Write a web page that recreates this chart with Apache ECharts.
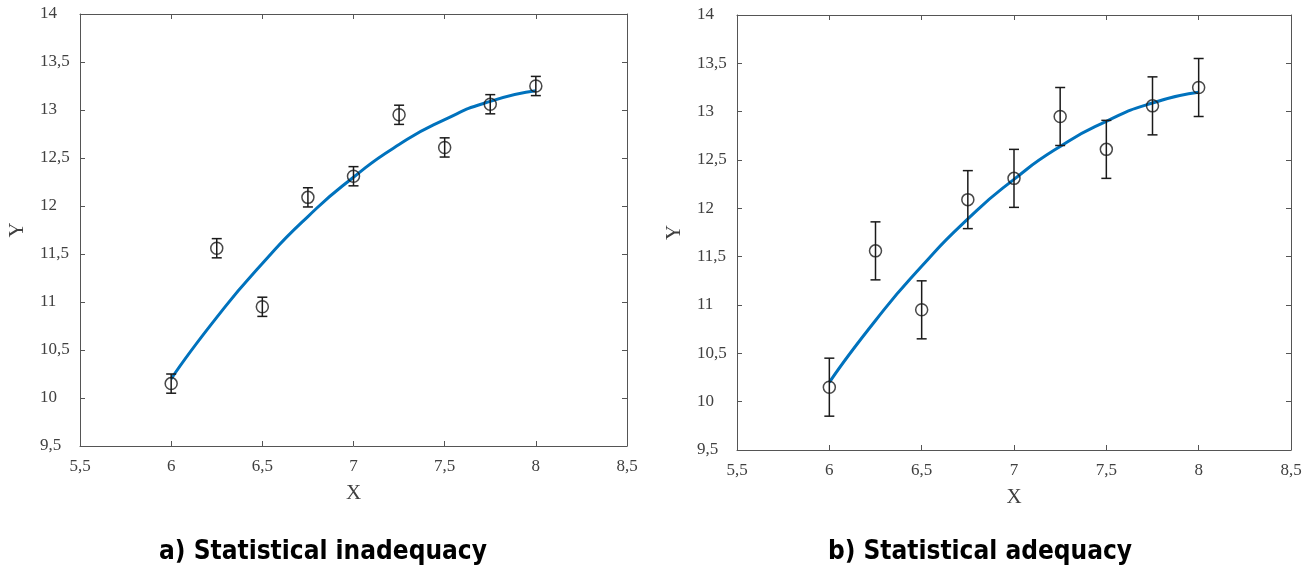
<!DOCTYPE html>
<html>
<head>
<meta charset="utf-8">
<script src="https://cdn.jsdelivr.net/npm/echarts@6/dist/echarts.min.js"></script>
<style>
  html, body { margin: 0; padding: 0; background: #fff; }
  #chart { width: 1309px; height: 570px; }
</style>
</head>
<body>
<div id="chart"></div>
<script>
// measured points (same for both panels)
const xValues = [6, 6.25, 6.5, 6.75, 7, 7.25, 7.5, 7.75, 8];
const yValues = [10.15, 11.56, 10.95, 12.09, 12.31, 12.95, 12.61, 13.06, 13.25];
// error half-widths
const errInadequate = [0.1, 0.1, 0.1, 0.1, 0.1, 0.1, 0.1, 0.1, 0.1];
const errAdequate = [0.3, 0.3, 0.3, 0.3, 0.3, 0.3, 0.3, 0.3, 0.3];
// fitted curve
const fitX = [6, 6.25, 6.5, 6.75, 7, 7.25, 7.5, 7.75, 8];
const fitY = [10.2, 10.84, 11.4, 11.89, 12.3, 12.64, 12.9, 13.09, 13.2];
const titles = ['a) Statistical inadequacy', 'b) Statistical adequacy'];

const AXIS_COLOR = '#555';
const LABEL_COLOR = '#404040';
const FONT = '"Liberation Serif", serif';
const comma = v => String(v).replace('.', ',');

const grids = [
  { left: 80, top: 14, width: 547, height: 432 },
  { left: 737, top: 15, width: 554, height: 435 },
];

const xAxes = [], yAxes = [], series = [];
grids.forEach((g, i) => {
  // bottom + top x axes
  xAxes.push({
    gridIndex: i, type: 'value', min: 5.5, max: 8.5, interval: 0.5,
    name: 'X', nameLocation: 'middle', nameGap: 37,
    nameTextStyle: { color: LABEL_COLOR, fontFamily: FONT, fontSize: 21 },
    axisLine: { lineStyle: { color: AXIS_COLOR, width: 1 } },
    axisTick: { inside: true, length: 5, lineStyle: { color: AXIS_COLOR } },
    axisLabel: { color: LABEL_COLOR, fontFamily: FONT, fontSize: 17, margin: 12, formatter: comma },
    splitLine: { show: false },
  });
  xAxes.push({
    gridIndex: i, type: 'value', min: 5.5, max: 8.5, interval: 0.5, position: 'top',
    axisLine: { lineStyle: { color: AXIS_COLOR, width: 1 } },
    axisTick: { inside: true, length: 5, lineStyle: { color: AXIS_COLOR } },
    axisLabel: { show: false }, splitLine: { show: false },
  });
  yAxes.push({
    gridIndex: i, type: 'value', min: 9.5, max: 14, interval: 0.5,
    name: 'Y', nameLocation: 'middle', nameGap: 52, nameRotate: 90,
    nameTextStyle: { color: LABEL_COLOR, fontFamily: FONT, fontSize: 21 },
    axisLine: { show: true, lineStyle: { color: AXIS_COLOR, width: 1 } },
    axisTick: { show: true, inside: true, length: 5, lineStyle: { color: AXIS_COLOR } },
    axisLabel: { color: LABEL_COLOR, fontFamily: FONT, fontSize: 17, margin: 40, align: 'left', formatter: comma },
    splitLine: { show: false },
  });
  yAxes.push({
    gridIndex: i, type: 'value', min: 9.5, max: 14, interval: 0.5, position: 'right',
    axisLine: { show: true, lineStyle: { color: AXIS_COLOR, width: 1 } },
    axisTick: { show: true, inside: true, length: 5, lineStyle: { color: AXIS_COLOR } },
    axisLabel: { show: false }, splitLine: { show: false },
  });

  const err = i === 0 ? errInadequate : errAdequate;
  series.push({
    type: 'line', xAxisIndex: i * 2, yAxisIndex: i * 2,
    data: fitX.map((x, k) => [x, fitY[k]]),
    smooth: 0.6, showSymbol: false, silent: true,
    lineStyle: { color: '#0072BD', width: 3 }, z: 2,
  });
  series.push({
    type: 'custom', xAxisIndex: i * 2, yAxisIndex: i * 2,
    data: xValues.map((x, k) => [x, yValues[k] - err[k], yValues[k] + err[k]]),
    renderItem: (params, api) => {
      const lo = api.coord([api.value(0), api.value(1)]);
      const hi = api.coord([api.value(0), api.value(2)]);
      const w = 5;
      const style = { stroke: '#1a1a1a', lineWidth: 1.5 };
      return {
        type: 'group',
        children: [
          { type: 'line', shape: { x1: lo[0], y1: lo[1], x2: hi[0], y2: hi[1] }, style },
          { type: 'line', shape: { x1: lo[0] - w, y1: lo[1], x2: lo[0] + w, y2: lo[1] }, style },
          { type: 'line', shape: { x1: hi[0] - w, y1: hi[1], x2: hi[0] + w, y2: hi[1] }, style },
        ],
      };
    },
    z: 3,
  });
  series.push({
    type: 'scatter', xAxisIndex: i * 2, yAxisIndex: i * 2,
    data: xValues.map((x, k) => [x, yValues[k]]),
    symbol: 'circle', symbolSize: 12,
    itemStyle: { color: 'rgba(255,255,255,0)', borderColor: '#1a1a1a', borderWidth: 1.5 },
    z: 4,
  });
});

const TITLE_FONT = 'bold 26px "DejaVu Sans Condensed", "Noto Sans", sans-serif';
const chart = echarts.init(document.getElementById('chart'), null, { renderer: 'canvas' });
chart.setOption({
  animation: false,
  backgroundColor: '#fff',
  grid: grids,
  xAxis: xAxes,
  yAxis: yAxes,
  series: series,
  graphic: [
    { type: 'text', x: 323, y: 552, style: { text: titles[0], fill: '#000', font: TITLE_FONT, align: 'center', verticalAlign: 'middle' } },
    { type: 'text', x: 980, y: 552, style: { text: titles[1], fill: '#000', font: TITLE_FONT, align: 'center', verticalAlign: 'middle' } },
  ],
});
</script>
</body>
</html>
